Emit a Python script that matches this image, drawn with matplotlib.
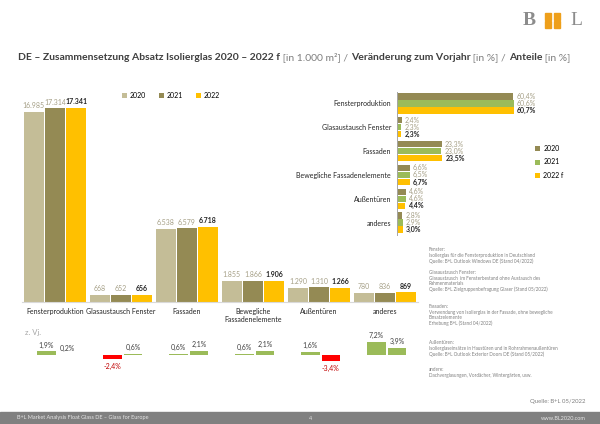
import numpy as np
import matplotlib.pyplot as plt
from matplotlib.patches import Rectangle

plt.rcParams['font.family'] = ['Lato', 'DejaVu Sans']

# Absatz Isolierglas [in 1.000 m²]
categories = ['Fensterproduktion', 'Glasaustausch Fenster', 'Fassaden',
              'Bewegliche\nFassadenelemente', 'Außentüren', 'anderes']
years = ['2020', '2021', '2022']
sales_2020 = [16985, 668, 6538, 1855, 1290, 780]
sales_2021 = [17314, 652, 6579, 1866, 1310, 836]
sales_2022 = [17341, 656, 6718, 1906, 1266, 869]

# Veränderung zum Vorjahr [in %]
change_2021 = [1.9, -2.4, 0.6, 0.6, 1.6, 7.2]
change_2022 = [0.2, 0.6, 2.1, 2.1, -3.4, 3.9]

# Anteile [in %]
share_labels = ['Fensterproduktion', 'Glasaustausch Fenster', 'Fassaden',
                'Bewegliche Fassadenelemente', 'Außentüren', 'anderes']
share_years = ['2020', '2021', '2022 f']
share_2020 = [60.4, 2.4, 23.3, 6.6, 4.6, 2.8]
share_2021 = [60.6, 2.3, 23.0, 6.5, 4.6, 2.9]
share_2022 = [60.7, 2.3, 23.5, 6.7, 4.4, 3.0]

notes = [
    "Fenster:\nIsolierglas für die Fensterproduktion in Deutschland\n"
    "Quelle: B+L Outlook Windows DE (Stand 04/2022)",
    "Glasaustausch Fenster:\nGlasaustausch  im Fensterbestand ohne Austausch des\n"
    "Rahmenmaterials\nQuelle: B+L Zielgruppenbefragung Glaser (Stand 05/2022)",
    "Fassaden:\nVerwendung von Isolierglas in der Fassade, ohne bewegliche\n"
    "Einsatzelemente\nErhebung B+L (Stand 04/2022)",
    "Außentüren:\nIsolierglaseinsätze in Haustüren und in Rohrrahmenaußentüren\n"
    "Quelle: B+L Outlook Exterior Doors DE (Stand 05/2022)",
    "andere:\nDachverglasungen, Vordächer, Wintergärten, usw.",
]
note_y = [250, 273, 307, 343, 370]

W, H = 600, 424


def box(x0, y0, x1, y1):
    # pixel box -> figure fraction rect
    return [x0 / W, 1 - y1 / H, (x1 - x0) / W, (y1 - y0) / H]


def de_num(v):
    return f"{v:,}".replace(",", ".")


def de_pct(v):
    return f"{v:.1f}%".replace(".", ",")


main_colors = ['#C4BD97', '#948A54', '#FFC000']
share_colors = ['#948A54', '#9BBB59', '#FFC000']
grey_lbl = '#A59F86'
dark = '#262626'

fig = plt.figure(figsize=(6, 4.24), dpi=100)

# main grouped bars
ax = fig.add_axes(box(22, 90, 418, 302))
x = np.arange(len(categories))
series = [sales_2020, sales_2021, sales_2022]
for i, vals in enumerate(series):
    bars = ax.bar(x + (i - 1) * 0.32, vals, width=0.30, color=main_colors[i],
                  label=years[i])
    for b, v in zip(bars, vals):
        ax.annotate(de_num(v), (b.get_x() + b.get_width() / 2, v),
                    xytext=(0, 2), textcoords='offset points', ha='center',
                    va='bottom', fontsize=5,
                    color=dark if i == 2 else grey_lbl,
                    fontweight='bold' if i == 2 else 'normal')
ax.set_xlim(-0.5, 5.5)
ax.set_ylim(0, 18950)
ax.set_yticks([])
ax.set_xticks(x, categories, fontsize=5, color=dark)
ax.tick_params(axis='x', length=0, pad=4.5)
for s in ['top', 'right', 'left']:
    ax.spines[s].set_visible(False)
ax.spines['bottom'].set_color('#D9D9D9')
ax.spines['bottom'].set_linewidth(0.8)
ax.patch.set_alpha(0)
ax.legend(loc='center left', bbox_to_anchor=(122 / W, 1 - 95.7 / H),
          bbox_transform=fig.transFigure, ncol=3, frameon=False, fontsize=5,
          handlelength=0.7, handleheight=0.7, handletextpad=0.4,
          columnspacing=1.9, borderpad=0, borderaxespad=0)

# change to previous year
axc = fig.add_axes(box(22, 330, 418, 380))
for off, vals in [(-0.13, change_2021), (0.18, change_2022)]:
    cols = ['#9BBB59' if v >= 0 else '#FF0000' for v in vals]
    bars = axc.bar(x + off, vals, width=0.28, color=cols)
    for b, v in zip(bars, vals):
        if v >= 0:
            axc.annotate(de_pct(v), (b.get_x() + b.get_width() / 2, v),
                         xytext=(0, 2), textcoords='offset points',
                         ha='center', va='bottom', fontsize=5, color='#404040')
        else:
            axc.annotate(de_pct(v), (b.get_x() + b.get_width() / 2, v),
                         xytext=(0, -2.5), textcoords='offset points',
                         ha='center', va='top', fontsize=5, color='#C00000')
axc.set_xlim(-0.5, 5.5)
axc.set_ylim(-13.5, 13.5)
axc.axis('off')
fig.text(25 / W, 1 - 333 / H, 'z. Vj.', fontsize=5.5, color='#A6A6A6',
         va='center', ha='left')

# shares (horizontal bars)
axh = fig.add_axes(box(397, 91.5, 532, 234.5))
y = np.arange(len(share_labels))
shares = [share_2020, share_2021, share_2022]
for i, vals in enumerate(shares):
    bars = axh.barh(y + (i - 1) * 0.295, vals, height=0.27,
                    color=share_colors[i], label=share_years[i])
    for b, v in zip(bars, vals):
        axh.annotate(de_pct(v), (v, b.get_y() + b.get_height() / 2),
                     xytext=(2.2, 0), textcoords='offset points', ha='left',
                     va='center', fontsize=5,
                     color=dark if i == 2 else grey_lbl,
                     fontweight='bold' if i == 2 else 'normal')
axh.set_xlim(0, 70)
axh.set_ylim(5.5, -0.5)
axh.set_xticks([])
axh.set_yticks(y, share_labels, fontsize=5, color=dark)
axh.tick_params(axis='y', length=0, pad=4.3)
for s in ['top', 'right', 'bottom']:
    axh.spines[s].set_visible(False)
axh.spines['left'].set_color('#A6A6A6')
axh.spines['left'].set_linewidth(0.7)
axh.patch.set_alpha(0)
axh.legend(loc='center left', bbox_to_anchor=(535 / W, 1 - 162 / H),
           bbox_transform=fig.transFigure, frameon=False, fontsize=5,
           handlelength=0.7, handleheight=0.7, handletextpad=0.5,
           labelspacing=0.9, borderpad=0, borderaxespad=0)

# notes
for txt, ny in zip(notes, note_y):
    fig.text(429 / W, 1 - (ny - 3) / H, txt, fontsize=3.3, color='#808080',
             va='top', ha='left', linespacing=1.15)

# title, bold and plain parts chained one after another
parts = [("DE – Zusammensetzung Absatz Isolierglas 2020 – 2022 f", 'bold', '#3F3F3F'),
         (" [in 1.000 m²] / ", 'normal', '#7F7F7F'),
         ("Veränderung zum Vorjahr", 'bold', '#3F3F3F'),
         (" [in %] / ", 'normal', '#7F7F7F'),
         ("Anteile", 'bold', '#3F3F3F'),
         (" [in %]", 'normal', '#7F7F7F')]
prev = fig.text(18 / W, 1 - 62 / H, parts[0][0], fontsize=7.5,
                fontweight=parts[0][1], color=parts[0][2], va='bottom')
for txt, wt, col in parts[1:]:
    prev = ax.annotate(txt, xy=(1, 0), xycoords=prev, fontsize=7.5,
                       fontweight=wt, color=col, va='bottom', ha='left',
                       annotation_clip=False)

# logo
fig.text(523 / W, 1 - 20.5 / H, 'B', fontsize=14, family='Liberation Serif',
         fontweight='bold', color='#8C8C8C', va='center', ha='left')
fig.text(582 / W, 1 - 20.5 / H, 'L', fontsize=14, family='Liberation Serif',
         color='#8C8C8C', va='center', ha='right')
for sx in (544.5, 553.5):
    for sy in (13.5, 21.5):
        fig.patches.append(Rectangle((sx / W, 1 - (sy + 6) / H), 6.5 / W, 6 / H,
                                     transform=fig.transFigure,
                                     color='#EE9F1A'))

# footer
fig.text(586 / W, 1 - 401.5 / H, 'Quelle: B+L 05/2022', fontsize=4.3,
         color='#808080', ha='right', va='center')
fig.patches.append(Rectangle((0, 0), 1, 12 / H, transform=fig.transFigure,
                             color='#808080'))
fig.text(17 / W, 1 - 418 / H, 'B+L Market Analysis Float Glass DE – Glass for Europe',
         fontsize=4, color='#E6E6E6', va='center', ha='left')
fig.text(311 / W, 1 - 418 / H, '4', fontsize=4, color='#E6E6E6',
         va='center', ha='center')
fig.text(586 / W, 1 - 418 / H, 'www.BL2020.com', fontsize=4,
         color='#E6E6E6', va='center', ha='right')

fig.savefig('out.png', dpi=100)
